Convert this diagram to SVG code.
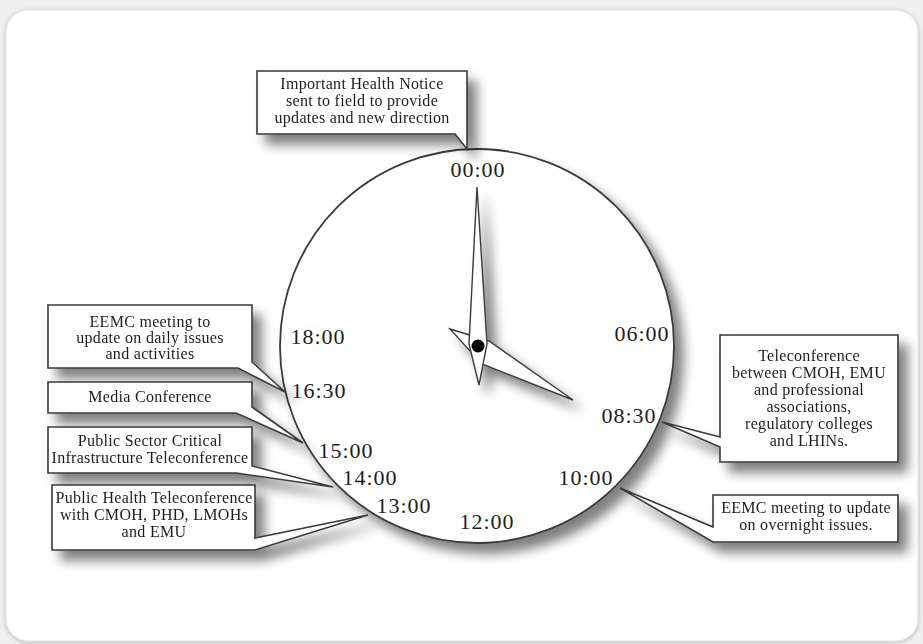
<svg xmlns="http://www.w3.org/2000/svg" width="923" height="644" viewBox="0 0 923 644">
<defs>
<filter id="shadow" x="-30%" y="-30%" width="170%" height="170%">
<feGaussianBlur in="SourceAlpha" stdDeviation="6"/>
<feOffset dx="9" dy="10"/>
<feComponentTransfer><feFuncA type="linear" slope="0.5"/></feComponentTransfer>
<feMerge><feMergeNode/><feMergeNode in="SourceGraphic"/></feMerge>
</filter>
<filter id="panelsh" x="-5%" y="-5%" width="110%" height="110%">
<feGaussianBlur in="SourceAlpha" stdDeviation="2"/>
<feOffset dx="0" dy="1"/>
<feComponentTransfer><feFuncA type="linear" slope="0.25"/></feComponentTransfer>
<feMerge><feMergeNode/><feMergeNode in="SourceGraphic"/></feMerge>
</filter>
</defs>
<style>
.bubble{fill:#fff;stroke:#3a3a3a;stroke-width:1.6;stroke-linejoin:miter}
.txt{font-family:"Liberation Serif","Times New Roman",serif;font-size:16px;fill:#1e1e1e;text-anchor:middle;letter-spacing:0.3px}
.hour{font-family:"Liberation Serif","Times New Roman",serif;font-size:22px;fill:#1e1e1e;text-anchor:middle;letter-spacing:1px}
.face{fill:#fff;stroke:#3a3a3a;stroke-width:1.8}
.hand{fill:#fff;stroke:#3a3a3a;stroke-width:1.4;stroke-linejoin:miter}
</style>
<rect x="0" y="0" width="923" height="644" fill="#efefef"/>
<rect x="6" y="10" width="912" height="631" rx="22" ry="22" fill="#fff" stroke="#e2e2e2" stroke-width="1" filter="url(#panelsh)"/>

<g id="clock">
<circle class="face" cx="477" cy="346" r="197" filter="url(#shadow)"/>
<text class="hour" x="478" y="177">00:00</text>
<text class="hour" x="642" y="341">06:00</text>
<text class="hour" x="629" y="423">08:30</text>
<text class="hour" x="586" y="485">10:00</text>
<text class="hour" x="487" y="529">12:00</text>
<text class="hour" x="404" y="513">13:00</text>
<text class="hour" x="370" y="485">14:00</text>
<text class="hour" x="346" y="458">15:00</text>
<text class="hour" x="319" y="398">16:30</text>
<text class="hour" x="318" y="344">18:00</text>
</g>

<g id="hands" filter="url(#shadow)">
<polygon class="hand" points="450,329 489,341 573,400 482,364"/>
<polygon class="hand" points="477,187 487,344 479,385 469,344"/>
<circle cx="478" cy="346" r="6.5" fill="#000"/>
</g>

<g id="connectors"></g>

<g id="note-0000" filter="url(#shadow)">
<path class="bubble" d="M257,71 H467 V149 L455,134 H257 Z"/>
<text class="txt" x="362" y="89">Important Health Notice</text>
<text class="txt" x="362" y="106">sent to field to provide</text>
<text class="txt" x="362" y="123">updates and new direction</text>
</g>

<g id="note-0830" filter="url(#shadow)">
<path class="bubble" d="M720,335 H898 V462 H720 V447 L662,422 L720,437 Z"/>
<text class="txt" x="809" y="361">Teleconference</text>
<text class="txt" x="809" y="378">between CMOH, EMU</text>
<text class="txt" x="809" y="395">and professional</text>
<text class="txt" x="809" y="412">associations,</text>
<text class="txt" x="809" y="429">regulatory colleges</text>
<text class="txt" x="809" y="446">and LHINs.</text>
</g>

<g id="note-1000" filter="url(#shadow)">
<path class="bubble" d="M713,495 H898 V542 H713 L620,488 L713,527 Z"/>
<text class="txt" x="806" y="513">EEMC meeting to update</text>
<text class="txt" x="806" y="530">on overnight issues.</text>
</g>

<g id="note-1630" filter="url(#shadow)">
<path class="bubble" d="M48,305 H252 V362 L285,392 L238,368 H48 Z"/>
<text class="txt" x="150" y="327">EEMC meeting to</text>
<text class="txt" x="150" y="343">update on daily issues</text>
<text class="txt" x="150" y="359">and activities</text>
</g>

<g id="note-1500" filter="url(#shadow)">
<path class="bubble" d="M48,382 H252 V407 L303,443 L236,413 H48 Z"/>
<text class="txt" x="150" y="402">Media Conference</text>
</g>

<g id="note-1400" filter="url(#shadow)">
<path class="bubble" d="M48,427 H252 V466 L333,487 L236,473 H48 Z"/>
<text class="txt" x="150" y="446">Public Sector Critical</text>
<text class="txt" x="150" y="463">Infrastructure Teleconference</text>
</g>

<g id="note-1300" filter="url(#shadow)">
<path class="bubble" d="M52,485 H255 V538 L368,515 L255,550 H52 Z"/>
<text class="txt" x="154" y="503">Public Health Teleconference</text>
<text class="txt" x="154" y="520">with CMOH, PHD, LMOHs</text>
<text class="txt" x="154" y="537">and EMU</text>
</g>
</svg>
